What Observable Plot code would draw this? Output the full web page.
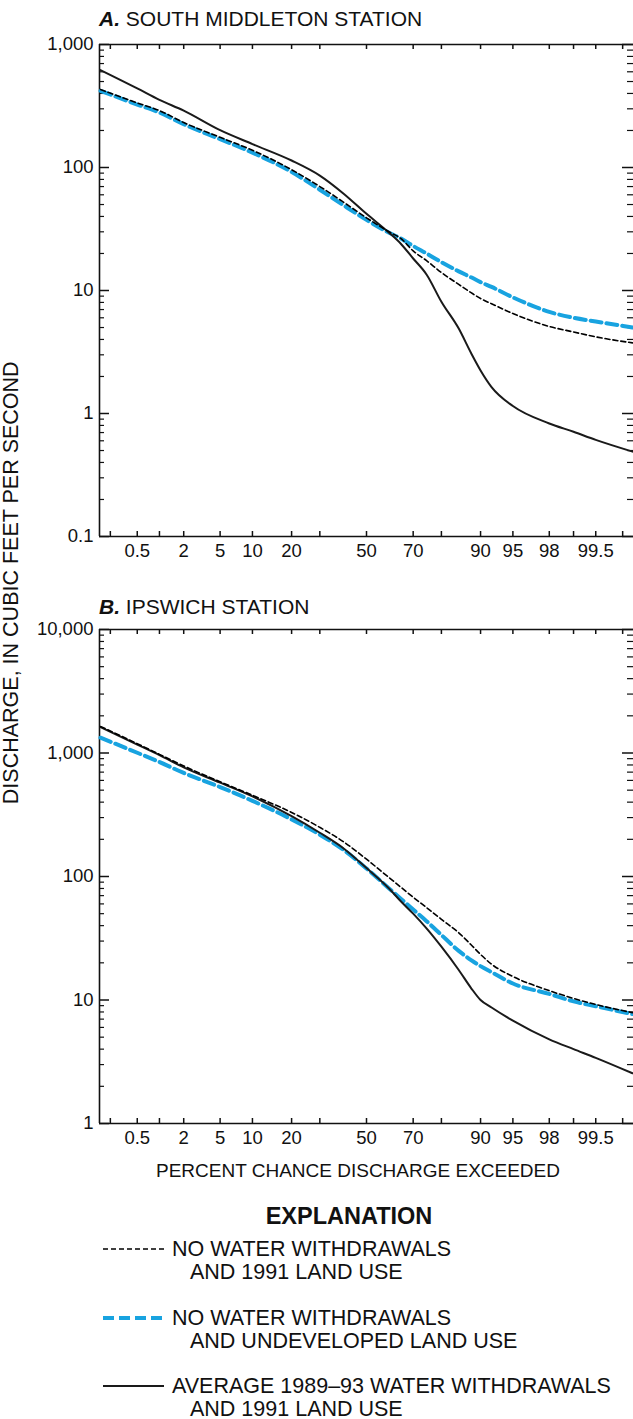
<!DOCTYPE html>
<html>
<head>
<meta charset="utf-8">
<script src="https://cdn.jsdelivr.net/npm/d3@7"></script>
<script src="https://cdn.jsdelivr.net/npm/@observablehq/plot@0.6"></script>
<style>
  html, body { margin: 0; padding: 0; background: #fff; }
  body { width: 633px; height: 1419px; position: relative; overflow: hidden;
         font-family: "Liberation Sans", Arial, Helvetica, sans-serif; color: #111; }
  .t { position: absolute; white-space: nowrap; line-height: 1; }
  .chart { position: absolute; left: 0; }
</style>
</head>
<body>
<div class="t" style="left:99px; top:8px; font-size:21px;"><b><i>A.</i></b> SOUTH MIDDLETON STATION</div>
<div id="chartA" class="chart" style="top:0px;"></div>
<div class="t" style="left:99px; top:596px; font-size:21px;"><b><i>B.</i></b> IPSWICH STATION</div>
<div id="chartB" class="chart" style="top:580px;"></div>
<div class="t" style="left:-288px; top:572px; width:600px; text-align:center; font-size:21.5px; transform:rotate(-90deg); transform-origin:50% 50%;">DISCHARGE, IN CUBIC FEET PER SECOND</div>
<div class="t" style="left:58px; top:1161px; width:600px; text-align:center; font-size:19px;">PERCENT CHANCE DISCHARGE EXCEEDED</div>
<div class="t" style="left:49px; top:1205px; width:600px; text-align:center; font-size:23.5px; font-weight:bold;">EXPLANATION</div>
<div id="legend"></div>
<script>
// ---------------- data ----------------
// percent chance discharge exceeded (shared grid)
const pct = [0.14, 0.5, 1, 2, 5, 10, 20, 30, 40, 50, 60, 65, 70, 75, 80, 85, 88, 90, 92, 95, 98, 99, 99.5, 99.86];

// A. South Middleton station (cubic feet per second)
const aNoWithdraw1991   = [430, 335, 290, 232, 176, 138, 96, 70, 52, 39, 30, 26.5, 21, 17.5, 14, 11.2, 9.6, 8.6, 7.8, 6.5, 5.1, 4.6, 4.2, 3.75];
const aNoWithdrawUndev  = [420, 325, 280, 225, 170, 132, 92, 66, 49, 37.5, 29.5, 26.5, 23, 20, 17, 14.3, 12.8, 11.7, 10.7, 8.8, 6.7, 6.0, 5.6, 5.0];
const aAverage1989_93   = [620, 440, 355, 290, 201, 155, 114, 86, 61, 42, 29.5, 24, 18.2, 13.5, 8.1, 4.9, 3.1, 2.24, 1.64, 1.15, 0.83, 0.71, 0.61, 0.49];

// B. Ipswich station (cubic feet per second)
const bNoWithdraw1991   = [1640, 1190, 975, 785, 585, 455, 330, 250, 190, 138, 98, 82, 68, 56, 45, 35, 28, 23.4, 19.5, 15.5, 11.9, 10.3, 9.2, 7.9];
const bNoWithdrawUndev  = [1330, 1005, 845, 690, 530, 410, 290, 218, 163, 116, 80, 66, 54, 43.5, 33.6, 25, 21, 18.8, 16.8, 13.6, 11.2, 9.75, 8.9, 7.7];
const bAverage1989_93   = [1620, 1170, 960, 765, 575, 445, 308, 226, 168, 117, 80, 63, 50, 38, 27, 17.5, 12.5, 10, 8.7, 6.8, 4.8, 4.0, 3.4, 2.55];

// axis ticks
const xTickPct   = [0.2, 0.5, 1, 2, 5, 10, 20, 30, 50, 70, 80, 90, 95, 98, 99, 99.5, 99.8];
const xLabelPct  = [0.5, 2, 5, 10, 20, 50, 70, 90, 95, 98, 99.5];
const yDomainA   = [0.1, 1000];
const yDomainB   = [1, 10000];

const seriesNames = [
  ["NO WATER WITHDRAWALS", "AND 1991 LAND USE"],
  ["NO WATER WITHDRAWALS", "AND UNDEVELOPED LAND USE"],
  ["AVERAGE 1989\u201393 WATER WITHDRAWALS", "AND 1991 LAND USE"]
];

// ---------------- helpers ----------------
// inverse standard normal CDF (Acklam) -> probability-paper x axis
function probit(p) {
  const a = [-3.969683028665376e+01, 2.209460984245205e+02, -2.759285104469687e+02, 1.383577518672690e+02, -3.066479806614716e+01, 2.506628277459239e+00];
  const b = [-5.447609879822406e+01, 1.615858368580409e+02, -1.556989798598866e+02, 6.680131188771972e+01, -1.328068155288572e+01];
  const c = [-7.784894002430293e-03, -3.223964580411365e-01, -2.400758248694380e+00, -2.549732539343734e+00, 4.374664141464968e+00, 2.938163982698783e+00];
  const d = [7.784695709041462e-03, 3.224671290700398e-01, 2.445134137142996e+00, 3.754408661907416e+00];
  const pl = 0.02425, ph = 1 - pl;
  let q, r;
  if (p < pl) {
    q = Math.sqrt(-2 * Math.log(p));
    return (((((c[0]*q+c[1])*q+c[2])*q+c[3])*q+c[4])*q+c[5]) / ((((d[0]*q+d[1])*q+d[2])*q+d[3])*q+1);
  }
  if (p <= ph) {
    q = p - 0.5; r = q*q;
    return (((((a[0]*r+a[1])*r+a[2])*r+a[3])*r+a[4])*r+a[5])*q / (((((b[0]*r+b[1])*r+b[2])*r+b[3])*r+b[4])*r+1);
  }
  q = Math.sqrt(-2 * Math.log(1 - p));
  return -(((((c[0]*q+c[1])*q+c[2])*q+c[3])*q+c[4])*q+c[5]) / ((((d[0]*q+d[1])*q+d[2])*q+d[3])*q+1);
}
const zOf = p => probit(p / 100);

const labelByZ = new Map(xLabelPct.map(p => [zOf(p), String(p)]));
const xTickZ = xTickPct.map(zOf);
const xLabelZ = xLabelPct.map(zOf);

function rows(values) { return pct.map((p, i) => ({z: zOf(p), q: values[i]})); }

const FONT = "'Liberation Sans', Arial, Helvetica, sans-serif";
const W = 633, ML = 99, MR = 0;
const BLUE = "#18a3e0";

function panel({series, yDomain, height, marginTop, marginBottom}) {
  const plotH = height - marginTop - marginBottom;
  const plotW = W - ML - MR;
  const decades = [];
  const minor = [];
  for (let d = yDomain[0]; d <= yDomain[1] * 1.0001; d *= 10) {
    const dd = +d.toPrecision(6);
    decades.push(dd);
    if (dd < yDomain[1] * 0.999) for (let k = 2; k <= 9; k++) minor.push(+(k * dd).toPrecision(6));
  }
  const fmt = d3.format(",");
  return Plot.plot({
    width: W, height, marginLeft: ML, marginRight: MR, marginTop, marginBottom,
    style: {fontFamily: FONT, fontSize: "18.5px", color: "#111", background: "transparent", overflow: "visible"},
    x: {domain: [-3, 3], axis: null},
    y: {type: "log", domain: yDomain, axis: null},
    marks: [
      Plot.axisX(xLabelZ, {anchor: "bottom", tickSize: 0, tickPadding: 7, tickFormat: z => labelByZ.get(z), label: null}),
      Plot.axisY(decades, {anchor: "left", tickSize: 0, tickPadding: 6, tickFormat: d => d < 1 ? String(d) : fmt(d), label: null}),
      // inward x ticks at bottom and top
      Plot.tickX(xTickZ, {x: d => d, insetTop: plotH - 5, stroke: "#111", strokeWidth: 1.5}),
      Plot.tickX(xTickZ, {x: d => d, insetBottom: plotH - 5, stroke: "#111", strokeWidth: 1.5}),
      // inward y ticks, left
      Plot.tickY(minor, {y: d => d, insetRight: plotW - 5, stroke: "#111", strokeWidth: 1.2}),
      Plot.tickY(decades, {y: d => d, insetRight: plotW - 10, stroke: "#111", strokeWidth: 1.5}),
      // inward y ticks, right
      Plot.tickY(minor, {y: d => d, insetLeft: plotW - 6, stroke: "#111", strokeWidth: 1.2}),
      Plot.tickY(decades, {y: d => d, insetLeft: plotW - 11, stroke: "#111", strokeWidth: 1.5}),
      // frame lines
      Plot.ruleX([-3], {stroke: "#111", strokeWidth: 1.6}),
      Plot.ruleY([yDomain[0], yDomain[1]], {stroke: "#111", strokeWidth: 1.6}),
      // curves
      Plot.line(rows(series[1]), {x: "z", y: "q", stroke: BLUE, strokeWidth: 4, strokeDasharray: "11,5", curve: "monotone-x"}),
      Plot.line(rows(series[2]), {x: "z", y: "q", stroke: "#1a1a1a", strokeWidth: 2, curve: "monotone-x"}),
      Plot.line(rows(series[0]), {x: "z", y: "q", stroke: "#000", strokeWidth: 1.6, strokeDasharray: "5,3", curve: "monotone-x"})
    ]
  });
}

document.getElementById("chartA").append(panel({
  series: [aNoWithdraw1991, aNoWithdrawUndev, aAverage1989_93],
  yDomain: yDomainA, height: 570, marginTop: 44, marginBottom: 34
}));
document.getElementById("chartB").append(panel({
  series: [bNoWithdraw1991, bNoWithdrawUndev, bAverage1989_93],
  yDomain: yDomainB, height: 577, marginTop: 49, marginBottom: 34
}));

// ---------------- legend ----------------
const legendStyles = [
  {stroke: "#000", width: 1.6, dash: "5,3"},
  {stroke: BLUE, width: 4, dash: "11,5"},
  {stroke: "#1a1a1a", width: 2, dash: null}
];
const legendY = [1249, 1318, 1386];
const leg = document.getElementById("legend");
seriesNames.forEach((lines, i) => {
  const y = legendY[i];
  const s = legendStyles[i];
  const svg = document.createElementNS("http://www.w3.org/2000/svg", "svg");
  svg.setAttribute("width", 70); svg.setAttribute("height", 10);
  svg.style.position = "absolute"; svg.style.left = "100px"; svg.style.top = (y - 5) + "px";
  const ln = document.createElementNS("http://www.w3.org/2000/svg", "line");
  ln.setAttribute("x1", 3); ln.setAttribute("x2", 64); ln.setAttribute("y1", 5); ln.setAttribute("y2", 5);
  ln.setAttribute("stroke", s.stroke); ln.setAttribute("stroke-width", s.width);
  if (s.dash) ln.setAttribute("stroke-dasharray", s.dash);
  svg.append(ln);
  leg.append(svg);
  lines.forEach((txt, j) => {
    const d = document.createElement("div");
    d.className = "t";
    d.style.fontSize = "21.5px";
    d.style.left = (j === 0 ? 172 : 190) + "px";
    d.style.top = (y + 1 + j * 23 - 10.75) + "px";
    d.textContent = txt;
    leg.append(d);
  });
});
</script>
</body>
</html>
